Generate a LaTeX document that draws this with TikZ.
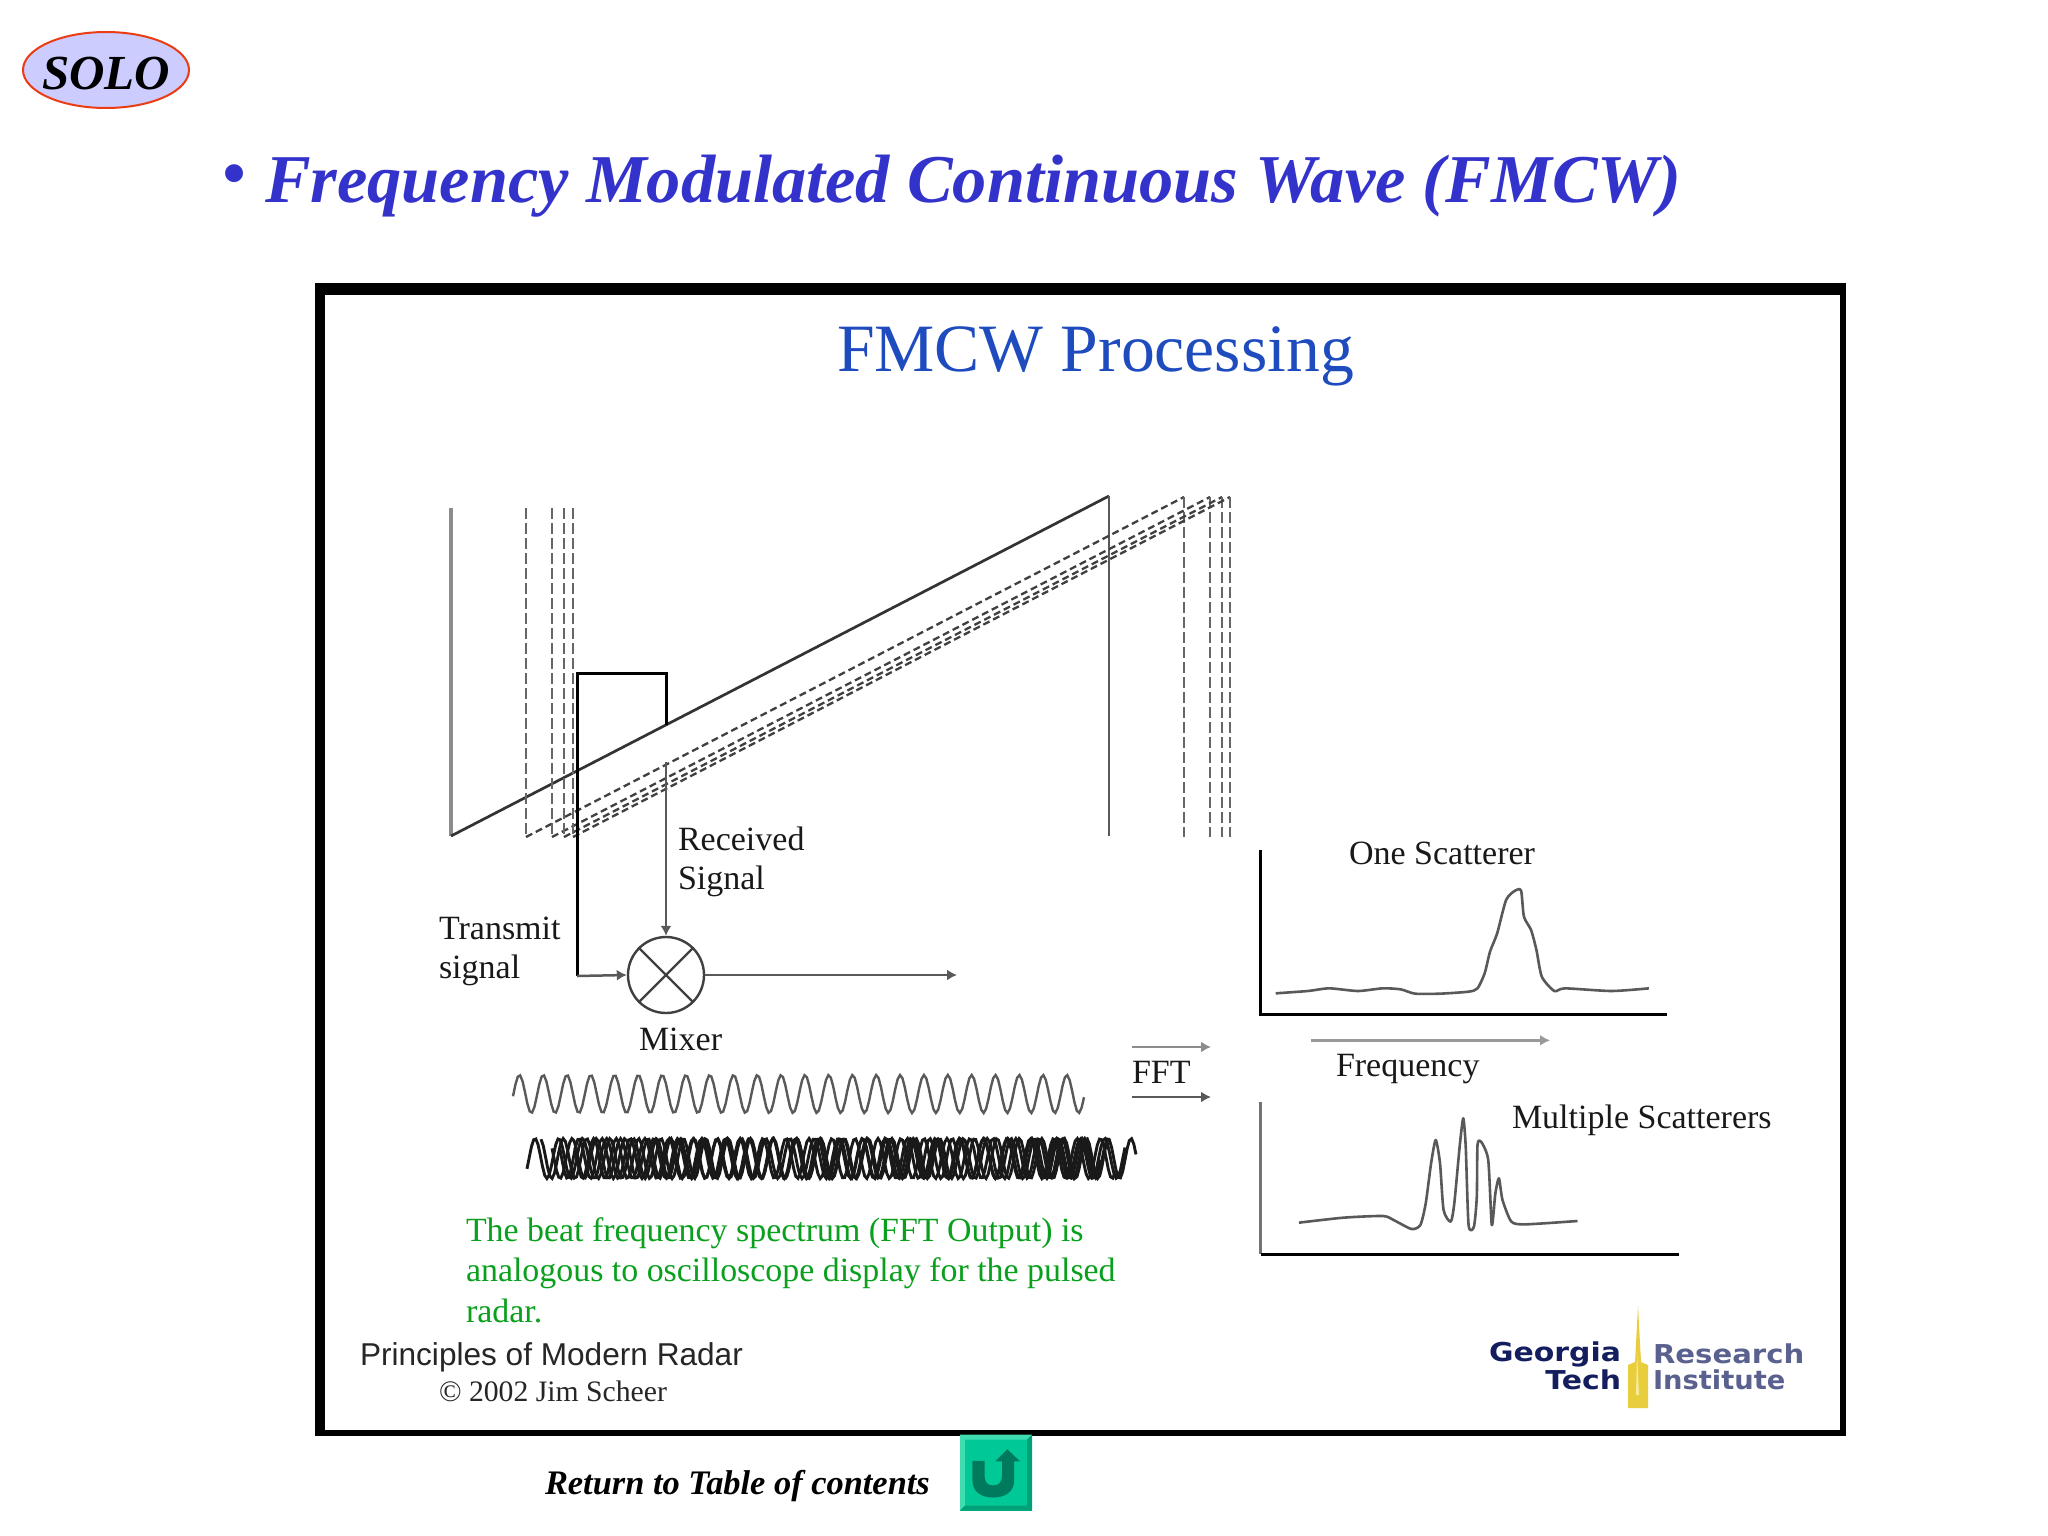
\documentclass[tikz,border=0pt]{standalone}
\usepackage{fontspec}
\setmainfont{Liberation Serif}
\newfontfamily\arialf{Liberation Sans}
\newfontfamily\logoa[FakeStretch=1.15]{DejaVu Sans}
\newfontfamily\logob[FakeStretch=1.12]{DejaVu Sans}
\newfontfamily\logoc[FakeStretch=1.05]{DejaVu Sans}
\usetikzlibrary{arrows.meta,shapes.geometric}
\definecolor{titleblue}{RGB}{51,51,204}
\definecolor{headblue}{RGB}{30,75,190}
\definecolor{beatgreen}{RGB}{10,160,30}
\definecolor{solofill}{RGB}{204,204,255}
\definecolor{solored}{RGB}{235,60,20}
\definecolor{navy}{RGB}{20,30,95}
\definecolor{towergold}{RGB}{232,205,60}
\definecolor{towerlight}{RGB}{248,235,150}
\definecolor{btn}{RGB}{0,200,150}
\definecolor{btnlt}{RGB}{64,220,175}
\definecolor{btndk}{RGB}{0,160,120}
\definecolor{btnarrow}{RGB}{0,122,92}
\newcommand{\fsz}[1]{\fontsize{#1pt}{#1pt}\selectfont}
\tikzset{
  lbl/.style={anchor=base west,inner sep=0pt,outer sep=0pt,font=\fsz{34},text=black!90},
  greenlbl/.style={lbl,font=\fsz{33.9},text=beatgreen},
  thin line/.style={draw=black!65,line width=2.5pt},
  thick line/.style={draw=black,line width=3pt},
  vdash/.style={draw=black!60,line width=2.4pt,dash pattern=on 11pt off 4pt},
  rdash/.style={draw=black!75,line width=2.3pt,dash pattern=on 7pt off 4pt},
  tip/.style={-{Latex[length=10pt,width=11pt]}},
  curve/.style={draw=black!65,line width=2.6pt,line join=round},
  wave/.style={draw=black!65,line width=2.4pt},
}
\begin{document}
\begin{tikzpicture}[x=1pt,y=-1pt]
\useasboundingbox (0,0) rectangle (2048,1536);
\fill[white] (0,0) rectangle (2048,1536);

% SOLO badge
\node[ellipse,draw=solored,line width=2pt,fill=solofill,minimum width=166pt,minimum height=76pt,inner sep=0pt] (solo) at (106,70) {};
\node[lbl,anchor=base,font=\fsz{49}\bfseries\itshape,text=black] (solotxt) at (106,90) {SOLO};

% slide title
\node[lbl,font=\fsz{66}\bfseries\itshape,text=titleblue] (bullet) at (222,195) {•};
\node[lbl,font=\fsz{68.4}\bfseries\itshape,text=titleblue] (title) at (265,202) {Frequency Modulated Continuous Wave (FMCW)};

% frame
\fill[black] (315,283) rectangle (1846,1436);
\fill[white] (325,295) rectangle (1840,1430);

\node[lbl,font=\fsz{67.7},text=headblue] (head) at (837,371) {FMCW Processing};

% ramps
\coordinate (s0) at (451,836); \coordinate (s1) at (1109,496);
\draw[draw=black!45,line width=3.2pt] (451,508) -- (s0);
\draw[black!80,line width=2.7pt] (s0) -- (s1);
\draw[thin line] (s1) -- (1109,836);
\foreach \a/\b in {526/1184,552/1210,564/1222,573/1230}{
  \draw[vdash] (\a,508) -- (\a,837);
  \draw[rdash] (\a,837) -- (\b,497);
  \draw[vdash] (\b,497) -- (\b,837);
}

% mixer
\node[circle,draw=black!75,line width=2.4pt,minimum size=76pt,inner sep=0pt] (mix) at (666,975) {};
\draw[black!75,line width=2.4pt] (mix.45) -- (mix.225) (mix.135) -- (mix.315);
\coordinate (txa) at (577,976);
\coordinate (txb) at (577,673);
\coordinate (txc) at (666,673);
\coordinate (txd) at (666,725);
\coordinate (rxa) at (666,762);
\coordinate (outend) at (957,975);
\draw[thick line] (txd) -- (txc) -- (txb) -- (txa);
\draw[thin line,tip] (txa) -- (mix.west);
\draw[thin line,tip] (rxa) -- (mix.north);
\draw[thin line,tip] (mix.east) -- (outend);

\node[lbl] (rx1) at (678,850) {Received};
\node[lbl] (rx2) at (678,889) {Signal};
\node[lbl] (tx1) at (439,939) {Transmit};
\node[lbl] (tx2) at (439,978) {signal};
\node[lbl] (mixl) at (639,1050) {Mixer};

% FFT
\coordinate (f1a) at (1132,1047); \coordinate (f1b) at (1211,1047);
\coordinate (f2a) at (1132,1097); \coordinate (f2b) at (1211,1097);
\draw[thin line,draw=black!45,tip] (f1a) -- (f1b);
\draw[thin line,tip] (f2a) -- (f2b);
\node[lbl] (fft) at (1132,1083) {FFT};

% beat waves
\draw[wave] plot[domain=513:1084,samples=240] (\x,{1094-19*cos((\x-519.4)/23.8*360)});
\foreach \st/\en/\ph/\per in {527/1100/535/23.8,541/1115/540/23.35,552/1125/548/24.2,560/1136/556/23.0,575/1110/549/22.4}{
  \draw[wave,draw=black!90,line width=2.9pt] plot[domain=\st:\en,samples=260] (\x,{1158.5-20*cos((\x-\ph)/\per*360)});
}

% green note
\node[greenlbl] (g1) at (466,1241) {The beat frequency spectrum (FFT Output) is};
\node[greenlbl] (g2) at (466,1281) {analogous to oscilloscope display for the pulsed};
\node[greenlbl] (g3) at (466,1322) {radar.};

\node[lbl,font=\arialf\fsz{31.6},text=black!85] (pr) at (360,1365) {Principles of Modern Radar};
\node[lbl,font=\fsz{29.7},text=black!85] (cr) at (439,1401) {© 2002 Jim Scheer};

% spectra
\begin{scope}[shift={(1240pt,-830pt)},x=0.35714pt,y=-0.33333pt]
  \draw[thick line] (58,60) -- (58,553) -- (1195,553);
  \draw[curve] plot[smooth,tension=0.4] coordinates {(100,490)(190,483)(250,475)(330,483)(400,475)(450,478)(490,491)(560,491)(640,485)(665,475)(685,430)(700,365)(720,310)(745,210)(770,182)(787,182)(795,260)(815,300)(830,360)(845,440)(880,483)(910,475)(1040,483)(1145,475)};
  \coordinate (fra) at (200,631); \coordinate (frb) at (868,631);
  \draw[thin line,draw=black!40,line width=3pt,tip] (fra) -- (frb);
  \draw[thin line,draw=black!55,line width=3pt] (58,815) -- (58,1273);
  \draw[thick line] (58,1273) -- (1228,1273);
  \draw[curve] plot[smooth,tension=0.4] coordinates {(165,1178)(290,1163)(400,1158)(430,1170)(480,1197)(505,1185)(520,1120)(535,1000)(548,930)(560,1000)(570,1140)(590,1175)(600,1120)(615,950)(625,865)(632,950)(640,1185)(655,1190)(663,1100)(665,945)(675,935)(695,990)(705,1185)(715,1090)(725,1045)(735,1110)(760,1175)(800,1183)(945,1173)};
\end{scope}
\node[lbl] (one) at (1349,864) {One Scatterer};
\node[lbl] (freq) at (1336,1076) {Frequency};
\node[lbl] (multi) at (1512,1128) {Multiple Scatterers};

% logo
\node[lbl,anchor=base east,font=\logoa\bfseries\fsz{26},text=navy] (ga) at (1621,1361) {Georgia};
\node[lbl,anchor=base east,font=\logoa\bfseries\fsz{26},text=navy] (tech) at (1621,1389) {Tech};
\fill[towergold] (1638,1306) -- (1641,1362) -- (1648,1365) -- (1648,1408) -- (1628,1408) -- (1628,1365) -- (1635,1362) -- cycle;
\fill[towerlight] (1637,1350) -- (1639,1395) -- (1636,1395) -- cycle;
\node[lbl,font=\logob\bfseries\fsz{26},text=navy!70] (res) at (1653,1363) {Research};
\node[lbl,font=\logoc\bfseries\fsz{26},text=navy!70] (inst) at (1653,1389) {Institute};

% return link
\node[lbl,font=\fsz{34.4}\bfseries\itshape,text=black] (ret) at (545,1494) {Return to Table of contents};
\begin{scope}[shift={(0pt,2.5pt)}]
\fill[btn] (960,1437) rectangle (1032,1513);
\fill[btnlt] (960,1437) -- (1032,1437) -- (1027,1442) -- (965,1442) -- (965,1508) -- (960,1513) -- cycle;
\fill[btndk] (1032,1437) -- (1032,1513) -- (960,1513) -- (965,1508) -- (1027,1508) -- (1027,1442) -- cycle;
\end{scope}
\begin{scope}[shift={(520pt,-1397.5pt)},x=0.34483pt,y=-0.34483pt]
  \fill[btnarrow] (1312,184) -- (1347,184) -- (1347,225) .. controls (1347,245) and (1355,255) .. (1372,255) .. controls (1390,255) and (1398,245) .. (1398,225) -- (1398,185) -- (1378,185) -- (1413,150) -- (1450,185) -- (1433,185) -- (1433,240) .. controls (1433,275) and (1405,290) .. (1372,290) .. controls (1340,290) and (1312,275) .. (1312,240) -- cycle;
\end{scope}
\end{tikzpicture}
\end{document}
